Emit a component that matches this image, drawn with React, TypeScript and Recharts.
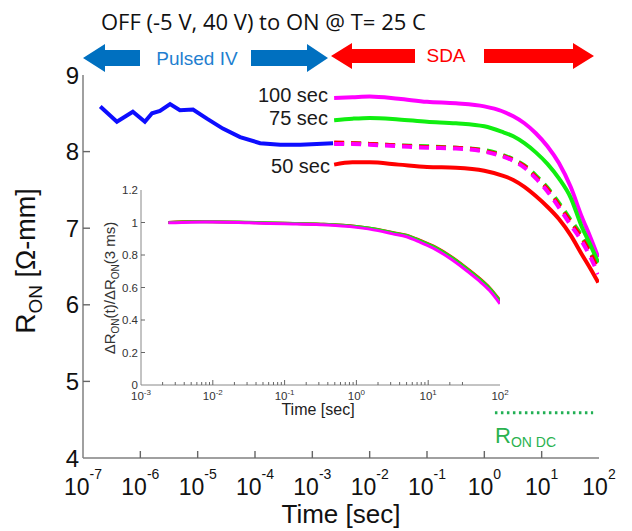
import React from 'react';
import { LineChart, Line, XAxis, YAxis } from 'recharts';

// axis ticks
const mainDecades = [1e-7, 1e-6, 1e-5, 1e-4, 1e-3, 1e-2, 1e-1, 1, 10, 100];
const mainYTicks = [4, 5, 6, 7, 8, 9];
const insetDecades = [1e-3, 1e-2, 1e-1, 1, 10, 100];
const insetYTicks = [0, 0.2, 0.4, 0.6, 0.8, 1, 1.2];

// pulsed IV part (blue)
const pulsedT = [2.0e-7, 3.9e-7, 7.4e-7, 1.2e-6, 1.6e-6, 2.2e-6, 3.3e-6, 4.9e-6, 8.3e-6, 1.45e-5, 2.75e-5, 5.5e-5, 1.23e-4, 2.75e-4, 6.2e-4, 2.3e-3];
const pulsedR = [8.59, 8.39, 8.52, 8.39, 8.5, 8.53, 8.62, 8.54, 8.55, 8.43, 8.3, 8.19, 8.11, 8.09, 8.09, 8.11];

// SDA part, after 50 / 75 / 100 sec of stress
const sdaT = [2.4e-3, 5e-3, 0.01, 0.032, 0.1, 0.32, 1, 2, 3.2, 5, 7.9, 12.6, 20, 32, 50, 71, 97];
const sda100 = [8.7, 8.71, 8.72, 8.69, 8.65, 8.63, 8.59, 8.53, 8.46, 8.37, 8.24, 8.07, 7.85, 7.54, 7.15, 6.88, 6.62];
const sda75 = [8.41, 8.43, 8.44, 8.42, 8.39, 8.37, 8.33, 8.26, 8.2, 8.11, 7.99, 7.84, 7.65, 7.4, 7.02, 6.78, 6.55];
const sda50 = [7.83, 7.86, 7.86, 7.83, 7.8, 7.79, 7.75, 7.69, 7.63, 7.54, 7.42, 7.28, 7.12, 6.91, 6.66, 6.47, 6.29];
// dashed recovery curves (continuation of pulsed IV)
const dash50 = [8.12, 8.11, 8.1, 8.08, 8.06, 8.05, 8.01, 7.95, 7.89, 7.81, 7.67, 7.51, 7.3, 7.08, 6.87, 6.67, 6.45];
const dash75 = [8.11, 8.11, 8.1, 8.08, 8.07, 8.05, 8.02, 7.96, 7.9, 7.82, 7.69, 7.53, 7.33, 7.11, 6.9, 6.7, 6.48];
const dash100 = [8.1, 8.1, 8.09, 8.07, 8.05, 8.04, 8.0, 7.94, 7.88, 7.79, 7.65, 7.48, 7.27, 7.04, 6.83, 6.62, 6.4];

// DC on-resistance
const dcT = [1.53, 79];
const dcR = [4.59, 4.59];

// inset: normalised delta R_ON
const insetT = [2.4e-3, 5e-3, 0.01, 0.032, 0.1, 0.32, 1, 2, 3.2, 5, 7.9, 12.6, 20, 32, 50, 71, 100];
const norm50 = [1.0, 1.006, 1.005, 1.0, 0.995, 0.99, 0.976, 0.957, 0.938, 0.922, 0.888, 0.848, 0.795, 0.73, 0.662, 0.6, 0.52];
const norm75 = [1.0, 1.004, 1.005, 1.001, 0.996, 0.99, 0.975, 0.956, 0.937, 0.92, 0.886, 0.846, 0.792, 0.727, 0.658, 0.597, 0.515];
const norm100 = [0.998, 1.002, 1.003, 0.998, 0.992, 0.986, 0.97, 0.95, 0.93, 0.912, 0.876, 0.835, 0.78, 0.714, 0.645, 0.583, 0.5];

const zip = (t: number[], v: number[]) => t.map((x, i) => ({ t: x, v: v[i] }));

const insetTicks = insetDecades.flatMap((d, i) =>
  i < insetDecades.length - 1 ? [1, 2, 3, 4, 5, 6, 7, 8, 9].map((k) => k * d) : [d]
);
const isDecade = (v: number) => Math.abs(Math.log10(v) - Math.round(Math.log10(v))) < 1e-6;

const SANS = 'Liberation Sans, Arial, sans-serif';
const CAL = 'Open Sans, sans-serif';
const FRAME = '#808080';
const TICK = '#666';
const BLUE = '#0d0dff';
const MAG = '#ff00ff';
const GRN = '#10ee10';
const RED = '#ff0000';

const MainXTick = (p: any) => {
  const { x, y, payload } = p;
  const e = Math.round(Math.log10(payload.value));
  const inner = e > -7 && e < 2;
  return (
    <g>
      {inner && <line x1={x} x2={x} y1={y} y2={y - 7} stroke={TICK} strokeWidth={1.4} />}
      <text x={x} y={y + 37} textAnchor="middle" fontSize={23} fill="#111" fontFamily={SANS}>
        10<tspan dy={-16} fontSize={14}>{String(e)}</tspan>
      </text>
    </g>
  );
};

const MainTopTick = (p: any) => {
  const { x, y, payload } = p;
  const e = Math.round(Math.log10(payload.value));
  if (e <= -7 || e >= 2) return <g />;
  return <line x1={x} x2={x} y1={y} y2={y + 7} stroke={TICK} strokeWidth={1.4} />;
};

const MainYTick = (p: any) => {
  const { x, y, payload } = p;
  const v = payload.value;
  return (
    <g>
      {v > 4 && v < 9 && <line x1={x} x2={x + 7} y1={y} y2={y} stroke={TICK} strokeWidth={1.4} />}
      <text x={x - 4} y={y + 8.5} textAnchor="end" fontSize={24} fill="#111" fontFamily={SANS}>
        {v}
      </text>
    </g>
  );
};

const MainRightTick = (p: any) => {
  const { x, y, payload } = p;
  const v = payload.value;
  if (v <= 4 || v >= 9) return <g />;
  return <line x1={x} x2={x - 7} y1={y} y2={y} stroke={TICK} strokeWidth={1.4} />;
};

const InsetXTick = (p: any) => {
  const { x, y, payload } = p;
  const v = payload.value;
  const major = isDecade(v);
  const e = Math.round(Math.log10(v));
  const edge = (e === -3 && major) || e === 2;
  return (
    <g>
      {!edge && <line x1={x} x2={x} y1={y} y2={y - (major ? 5 : 3)} stroke={TICK} strokeWidth={1} />}
      {major && (
        <text x={x} y={y + 15} textAnchor="middle" fontSize={11.5} fill="#333" fontFamily={SANS}>
          10<tspan dy={-5} fontSize={8}>{String(e)}</tspan>
        </text>
      )}
    </g>
  );
};

const InsetTopTick = (p: any) => {
  const { x, y, payload } = p;
  const v = payload.value;
  const major = isDecade(v);
  const e = Math.round(Math.log10(v));
  if ((major && e === -3) || e === 2) return <g />;
  return <line x1={x} x2={x} y1={y} y2={y + (major ? 5 : 3)} stroke={TICK} strokeWidth={1} />;
};

const InsetYTick = (p: any) => {
  const { x, y, payload } = p;
  const v = payload.value;
  return (
    <g>
      {v > 0 && v < 1.2 && <line x1={x} x2={x + 4} y1={y} y2={y} stroke={TICK} strokeWidth={1} />}
      <text x={x - 3} y={y + 4} textAnchor="end" fontSize={11.5} fill="#333" fontFamily={SANS}>
        {v}
      </text>
    </g>
  );
};

const InsetRightTick = (p: any) => {
  const { x, y, payload } = p;
  const v = payload.value;
  if (v <= 0 || v >= 1.2) return <g />;
  return <line x1={x} x2={x - 4} y1={y} y2={y} stroke={TICK} strokeWidth={1} />;
};

const Overlay = () => (
  <svg width={632} height={531} style={{ position: 'absolute', left: 0, top: 0, pointerEvents: 'none' }}>
    <text x={101} y={30} fontSize={22} fontFamily={CAL} fill="#111">
      OFF (-5 V, 40 V) to ON @ T= 25 C
    </text>
    {/* pulsed IV arrows */}
    <polygon points="83,58 105,44 105,50 140,50 140,66 105,66 105,72" fill="#0070c0" />
    <polygon points="251,50 307,50 307,44 328,58 307,72 307,66 251,66" fill="#0070c0" />
    <text x={197} y={65} textAnchor="middle" fontSize={19} fontFamily={SANS} fill="#1f7fd0">
      Pulsed IV
    </text>
    {/* SDA arrows */}
    <polygon points="331,56 352,43 352,49 415,49 415,63 352,63 352,69" fill={RED} />
    <polygon points="484,49 573,49 573,43 594,56 573,69 573,63 484,63" fill={RED} />
    <text x={446} y={62} textAnchor="middle" fontSize={19} fontFamily={SANS} fill={RED}>
      SDA
    </text>
    <g fontFamily={SANS} fontSize={20} fill="#1a1a1a" textAnchor="end">
      <text x={328} y={102}>100 sec</text>
      <text x={328} y={125}>75 sec</text>
      <text x={330} y={173}>50 sec</text>
    </g>
    <text transform="translate(35,261) rotate(-90)" textAnchor="middle" fontFamily={SANS} fill="#111" fontSize={28}>
      R<tspan fontSize={19} dy={7}>ON</tspan>
      <tspan dy={-7} fontSize={27}> [Ω-mm]</tspan>
    </text>
    <text x={341} y={523} textAnchor="middle" fontSize={26} fontFamily={SANS} fill="#111">
      Time [sec]
    </text>
    <text x={495} y={443} fontSize={22} fontFamily={SANS} fill="#2ab24f">
      R<tspan fontSize={14} dy={4}>ON DC</tspan>
    </text>
    <text transform="translate(115,288) rotate(-90)" textAnchor="middle" fontFamily={SANS} fill="#333" fontSize={15}>
      ΔR<tspan fontSize={10} dy={4}>ON</tspan>
      <tspan dy={-4}>(t)/ΔR</tspan>
      <tspan fontSize={10} dy={4}>ON</tspan>
      <tspan dy={-4}>(3 ms)</tspan>
    </text>
    <text x={318} y={415} textAnchor="middle" fontSize={16} fontFamily={SANS} fill="#222">
      Time [sec]
    </text>
  </svg>
);

export default function App() {
  const mainLine = (data: any[], color: string, key: string, dash?: string, type: any = 'monotone') => (
    <Line
      key={key}
      xAxisId="b"
      yAxisId="l"
      data={data}
      dataKey="v"
      type={type}
      stroke={color}
      strokeWidth={4}
      strokeDasharray={dash}
      dot={false}
      isAnimationActive={false}
    />
  );
  const insetLine = (data: any[], color: string, key: string) => (
    <Line
      key={key}
      xAxisId="b"
      yAxisId="l"
      data={data}
      dataKey="v"
      type="monotone"
      stroke={color}
      strokeWidth={3}
      dot={false}
      isAnimationActive={false}
    />
  );

  return (
    <div style={{ position: 'absolute', left: 0, top: 0, width: 632, height: 531, background: '#fff' }}>
      <div style={{ position: 'absolute', left: 0, top: 0 }}>
        <LineChart width={632} height={531} margin={{ top: 75, right: 33, bottom: 33, left: 43 }}>
          <XAxis
            xAxisId="b"
            type="number"
            dataKey="t"
            scale="log"
            domain={[1e-7, 100]}
            allowDataOverflow
            ticks={mainDecades}
            interval={0}
            height={40}
            tickSize={0}
            tickMargin={0}
            tickLine={false}
            axisLine={{ stroke: FRAME, strokeWidth: 1.5 }}
            tick={(p: any) => <MainXTick {...p} />}
          />
          <XAxis
            xAxisId="t"
            orientation="top"
            type="number"
            dataKey="t"
            scale="log"
            domain={[1e-7, 100]}
            allowDataOverflow
            ticks={mainDecades}
            interval={0}
            height={0}
            tickSize={0}
            tickMargin={0}
            tickLine={false}
            axisLine={{ stroke: FRAME, strokeWidth: 1.5 }}
            tick={(p: any) => <MainTopTick {...p} />}
          />
          <YAxis
            yAxisId="l"
            type="number"
            domain={[4, 9]}
            allowDataOverflow
            ticks={mainYTicks}
            interval={0}
            width={40}
            tickSize={0}
            tickMargin={0}
            tickLine={false}
            axisLine={{ stroke: FRAME, strokeWidth: 1.5 }}
            tick={(p: any) => <MainYTick {...p} />}
          />
          <YAxis
            yAxisId="r"
            orientation="right"
            type="number"
            domain={[4, 9]}
            ticks={mainYTicks}
            interval={0}
            width={0}
            tickSize={0}
            tickMargin={0}
            tickLine={false}
            axisLine={{ stroke: FRAME, strokeWidth: 1.5 }}
            tick={(p: any) => <MainRightTick {...p} />}
          />
          {mainLine(zip(pulsedT, pulsedR), BLUE, 'pulsed', undefined, 'linear')}
          {mainLine(zip(sdaT, sda100), MAG, 's100')}
          {mainLine(zip(sdaT, sda75), GRN, 's75')}
          {mainLine(zip(sdaT, sda50), RED, 's50')}
          {mainLine(zip(sdaT, dash75), GRN, 'd75', '10 7')}
          {mainLine(zip(sdaT, dash50), RED, 'd50', '10 7')}
          {mainLine(zip(sdaT, dash100), MAG, 'd100', '10 7')}
          <Line
            xAxisId="b"
            yAxisId="l"
            data={zip(dcT, dcR)}
            dataKey="v"
            type="linear"
            stroke="#22b055"
            strokeWidth={3}
            strokeDasharray="2.5 3.5"
            dot={false}
            isAnimationActive={false}
          />
        </LineChart>
      </div>
      <div style={{ position: 'absolute', left: 95, top: 175 }}>
        <LineChart width={420} height={250} margin={{ top: 15, right: 15, bottom: 10, left: 16 }}>
          <XAxis
            xAxisId="b"
            type="number"
            dataKey="t"
            scale="log"
            domain={[1e-3, 100]}
            allowDataOverflow
            ticks={insetTicks}
            interval={0}
            height={30}
            tickSize={0}
            tickMargin={0}
            tickLine={false}
            axisLine={{ stroke: '#888', strokeWidth: 1 }}
            tick={(p: any) => <InsetXTick {...p} />}
          />
          <XAxis
            xAxisId="t"
            orientation="top"
            type="number"
            dataKey="t"
            scale="log"
            domain={[1e-3, 100]}
            allowDataOverflow
            ticks={insetTicks}
            interval={0}
            height={0}
            tickSize={0}
            tickMargin={0}
            tickLine={false}
            axisLine={{ stroke: '#888', strokeWidth: 1 }}
            tick={(p: any) => <InsetTopTick {...p} />}
          />
          <YAxis
            yAxisId="l"
            type="number"
            domain={[0, 1.2]}
            allowDataOverflow
            ticks={insetYTicks}
            interval={0}
            width={30}
            tickSize={0}
            tickMargin={0}
            tickLine={false}
            axisLine={{ stroke: '#888', strokeWidth: 1 }}
            tick={(p: any) => <InsetYTick {...p} />}
          />
          <YAxis
            yAxisId="r"
            orientation="right"
            type="number"
            domain={[0, 1.2]}
            ticks={insetYTicks}
            interval={0}
            width={0}
            tickSize={0}
            tickMargin={0}
            tickLine={false}
            axisLine={{ stroke: '#888', strokeWidth: 1 }}
            tick={(p: any) => <InsetRightTick {...p} />}
          />
          {insetLine(zip(insetT, norm50), RED, 'n50')}
          {insetLine(zip(insetT, norm75), GRN, 'n75')}
          {insetLine(zip(insetT, norm100), MAG, 'n100')}
        </LineChart>
      </div>
      <Overlay />
    </div>
  );
}
